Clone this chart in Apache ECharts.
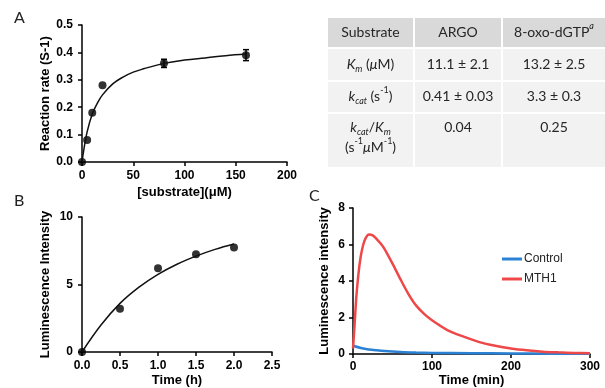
<!DOCTYPE html>
<html>
<head>
<meta charset="utf-8">
<script src="https://cdn.jsdelivr.net/npm/echarts@6/dist/echarts.min.js"></script>
<style>
  html, body { margin: 0; padding: 0; background: #fff; }
  #main { width: 605px; height: 388px; }
</style>
</head>
<body>
<div id="main"></div>
<script>
// panel A: rate vs substrate
const aConc = [0, 5, 10, 20, 80, 160]
const aRate = [0, 0.08, 0.18, 0.28, 0.36, 0.39]
const aErr = [0, 0, 0, 0, 0.015, 0.02]
const aFitX = [0, 2, 5, 10, 15, 20, 30, 40, 50, 60, 80, 100, 120, 140, 160]
const aFitY = [0, 0.05, 0.11, 0.175, 0.215, 0.245, 0.285, 0.31, 0.328, 0.34, 0.36, 0.372, 0.38, 0.388, 0.394]

// panel B: luminescence vs time (h)
const bTime = [0, 0.5, 1.0, 1.5, 2.0]
const bLum = [0, 3.2, 6.2, 7.25, 7.75]
const bFitX = [0, 0.25, 0.5, 0.75, 1.0, 1.25, 1.5, 1.75, 2.0]
const bFitY = [0, 2.0, 3.6, 4.8, 5.75, 6.5, 7.1, 7.6, 8.0]

// panel C: kinetics (min)
const cTime = [0, 2, 4, 6, 8, 10, 13, 16, 20, 25, 30, 35, 40, 50, 60, 70, 80, 90, 100, 120, 140, 160, 180, 200, 220, 240, 260, 280, 300]
const cMth1 = [0.3, 1.6, 3.0, 4.0, 4.8, 5.4, 6.0, 6.35, 6.55, 6.5, 6.3, 6.05, 5.75, 4.95, 4.1, 3.3, 2.65, 2.2, 1.85, 1.3, 0.95, 0.65, 0.45, 0.3, 0.2, 0.13, 0.09, 0.06, 0.04]
const cCtrlTime = [0, 10, 20, 30, 40, 60, 80, 100, 150, 200, 250, 300]
const cControl = [0.45, 0.33, 0.25, 0.2, 0.16, 0.11, 0.08, 0.06, 0.04, 0.03, 0.02, 0.02]

// kinetic table
const tableHead = ['Substrate', 'ARGO', '8-oxo-dGTP{supi|a}']
const tableLabels = ['{i|K}{sub|m} ({i|μ}M)', '{i|k}{sub|cat} (s{sup|-1})', '{i|k}{sub|cat}/{i|K}{sub|m}\n(s{sup|-1}{i|μ}M{sup|-1})']
const argoVals = ['11.1 ± 2.1', '0.41 ± 0.03', '0.04']
const oxoVals = ['13.2 ± 2.5', '3.3 ± 0.3', '0.25']

const chart = echarts.init(document.getElementById('main'))

const tickFont = { color: '#000', fontFamily: 'Liberation Sans', fontWeight: 'bold', fontSize: 12 }
const nameFont = { color: '#000', fontFamily: 'Liberation Sans', fontWeight: 'bold', fontSize: 13 }

function axis(gridIndex, min, max, interval, digits, name, gap, margin) {
  return {
    type: 'value', gridIndex, min, max, interval,
    name, nameLocation: 'middle', nameGap: gap, nameTextStyle: nameFont,
    axisLine: { show: true, lineStyle: { color: '#000', width: 1.5 } },
    axisTick: { show: true, length: 4, lineStyle: { color: '#000', width: 1.5 } },
    axisLabel: { ...tickFont, margin: margin, formatter: v => v.toFixed(digits) },
    splitLine: { show: false },
  }
}

// table graphics
const colX = [327, 414, 502, 606]
const rowY = [17, 48, 81, 113, 168]
const cellFont = 'Lato'
const ink = '#262626'
const rich = {
  i: { fontStyle: 'italic', fontSize: 14, fontFamily: cellFont, fill: ink },
  sub: { fontStyle: 'italic', fontSize: 9, fontFamily: cellFont, verticalAlign: 'bottom', fill: ink },
  sup: { fontSize: 9, fontFamily: cellFont, verticalAlign: 'top', fill: ink },
  supi: { fontStyle: 'italic', fontSize: 9, fontFamily: cellFont, verticalAlign: 'top', fill: ink },
}
const graphics = []
for (let r = 0; r < 4; r++) {
  for (let c = 0; c < 3; c++) {
    graphics.push({
      type: 'rect', silent: true,
      shape: { x: colX[c] + 1, y: rowY[r] + 1, width: colX[c + 1] - colX[c] - 2, height: rowY[r + 1] - rowY[r] - 2 },
      style: { fill: r === 0 ? '#d9d9d9' : '#f2f2f2' },
    })
  }
}
const cellText = (txt, c, y, va) => ({
  type: 'text', silent: true,
  style: {
    text: txt, x: (colX[c] + colX[c + 1]) / 2, y: y, align: 'center', verticalAlign: va || 'middle',
    fontFamily: cellFont, fontSize: 14, fill: ink, lineHeight: 20, rich: rich,
  },
})
tableHead.forEach((t, c) => graphics.push(cellText(t, c, 32)))
const bodyY = [64, 96, 127]
tableLabels.forEach((t, r) => graphics.push(r === 2 ? cellText(t, 0, 117, 'top') : cellText(t, 0, bodyY[r])))
argoVals.forEach((t, r) => graphics.push(cellText(t, 1, bodyY[r])))
oxoVals.forEach((t, r) => graphics.push(cellText(t, 2, bodyY[r])))

const letter = (t, x, y) => ({
  type: 'text', silent: true,
  style: { text: t, x, y, fontFamily: 'Lato', fontSize: 16, fill: '#222', verticalAlign: 'middle' },
})
graphics.push(letter('A', 14, 18), letter('B', 14, 201), letter('C', 309, 196))

const zip = (xs, ys) => xs.map((x, i) => [x, ys[i]])

const option = {
  animation: false,
  backgroundColor: '#fff',
  grid: [
    { left: 82, top: 25, width: 205, height: 137 },
    { left: 82, top: 217, width: 190, height: 135 },
    { left: 353, top: 208, width: 237, height: 146 },
  ],
  xAxis: [
    axis(0, 0, 200, 50, 0, '[substrate](μM)', 24, 8),
    axis(1, 0, 2.5, 0.5, 1, 'Time (h)', 22, 8),
    axis(2, 0, 300, 100, 0, 'Time (min)', 20, 7),
  ],
  yAxis: [
    axis(0, 0, 0.5, 0.1, 1, 'Reaction rate (S-1)', 29, 9),
    axis(1, 0, 10, 5, 0, 'Luminescence Intensity', 30, 9),
    axis(2, 0, 8, 2, 0, 'Luminescence intensity', 22, 8),
  ],
  legend: {
    orient: 'vertical', left: 497, top: 248, itemGap: 8,
    itemWidth: 20, itemHeight: 3, icon: 'rect',
    textStyle: { fontFamily: 'Liberation Sans', fontSize: 12, color: '#222', padding: [0, 0, 0, -3] },
    data: ['Control', 'MTH1'],
  },
  series: [
    {
      type: 'line', xAxisIndex: 0, yAxisIndex: 0, data: zip(aFitX, aFitY),
      smooth: 0.4, showSymbol: false, lineStyle: { color: '#111', width: 1.5 }, silent: true,
    },
    {
      type: 'scatter', xAxisIndex: 0, yAxisIndex: 0, data: zip(aConc, aRate),
      symbolSize: 8, itemStyle: { color: '#000' },
    },
    {
      type: 'custom', xAxisIndex: 0, yAxisIndex: 0,
      data: aConc.map((x, i) => [x, aRate[i] - aErr[i], aRate[i] + aErr[i]]).filter((d, i) => aErr[i] > 0),
      renderItem: function (params, api) {
        const lo = api.coord([api.value(0), api.value(1)])
        const hi = api.coord([api.value(0), api.value(2)])
        const w = 3
        const st = { stroke: '#000', lineWidth: 1.5 }
        return {
          type: 'group',
          children: [
            { type: 'line', shape: { x1: lo[0], y1: lo[1], x2: hi[0], y2: hi[1] }, style: st },
            { type: 'line', shape: { x1: lo[0] - w, y1: lo[1], x2: lo[0] + w, y2: lo[1] }, style: st },
            { type: 'line', shape: { x1: hi[0] - w, y1: hi[1], x2: hi[0] + w, y2: hi[1] }, style: st },
          ],
        }
      },
    },
    {
      type: 'line', xAxisIndex: 1, yAxisIndex: 1, data: zip(bFitX, bFitY),
      smooth: 0.4, showSymbol: false, lineStyle: { color: '#111', width: 1.5 }, silent: true,
    },
    {
      type: 'scatter', xAxisIndex: 1, yAxisIndex: 1, data: zip(bTime, bLum),
      symbolSize: 8, itemStyle: { color: '#000' },
    },
    {
      name: 'Control', type: 'line', xAxisIndex: 2, yAxisIndex: 2, data: zip(cCtrlTime, cControl),
      smooth: 0.3, showSymbol: false, color: '#2b82d4', lineStyle: { color: '#2b82d4', width: 2.5 },
    },
    {
      name: 'MTH1', type: 'line', xAxisIndex: 2, yAxisIndex: 2, data: zip(cTime, cMth1),
      smooth: 0.3, showSymbol: false, color: '#ee4848', lineStyle: { color: '#ee4848', width: 2.5 },
    },
  ],
  graphic: graphics,
}

chart.setOption(option)
</script>
</body>
</html>
